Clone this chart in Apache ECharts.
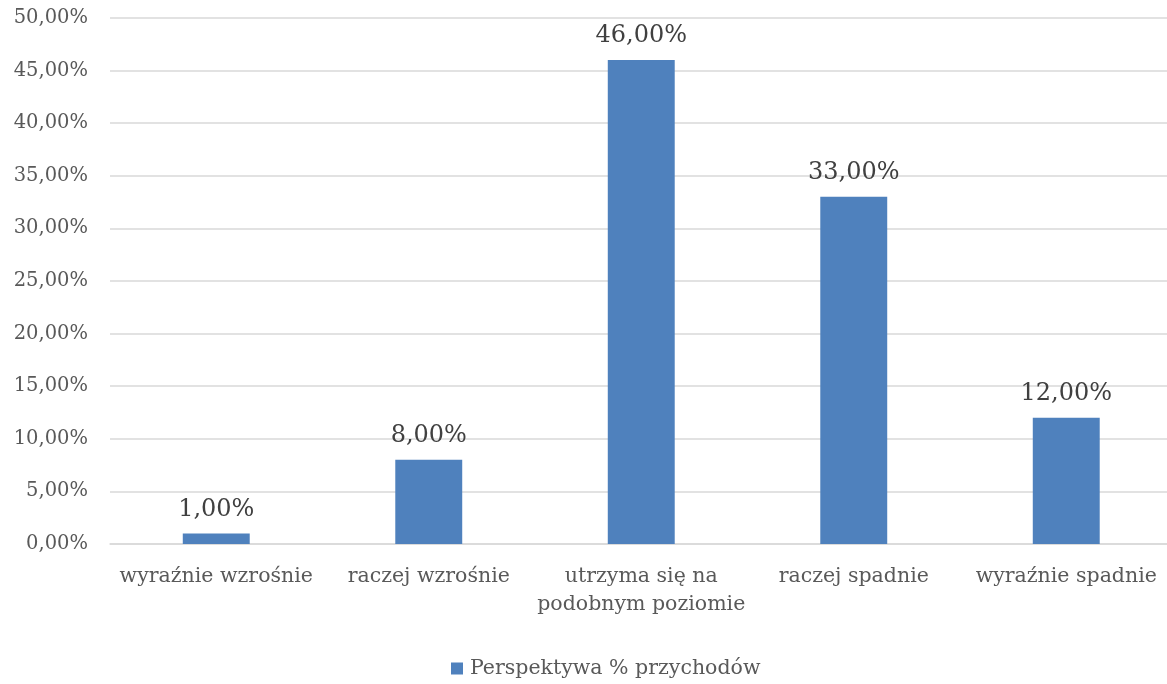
<!DOCTYPE html>
<html><head><meta charset="utf-8">
<script src="https://cdn.jsdelivr.net/npm/echarts@6/dist/echarts.min.js"></script>
<style>html,body{margin:0;padding:0;background:#fff;overflow:hidden}#c{width:1180px;height:684px}</style>
</head><body><div id="c"></div>
<script>
const categories = ['wyraźnie wzrośnie', 'raczej wzrośnie', 'utrzyma się na\npodobnym poziomie', 'raczej spadnie', 'wyraźnie spadnie'];
const values = [1, 8, 46, 33, 12];
const seriesName = 'Perspektywa % przychodów';
const FONT = '"DejaVu Serif", "Liberation Serif", serif';
const fmt = v => v.toFixed(2).replace('.', ',') + '%';
const chart = echarts.init(document.getElementById('c'));
chart.setOption({
  animation: false,
  textStyle: { fontFamily: FONT },
  grid: { left: 110, width: 1062.5, top: 18, bottom: 140 },
  legend: {
    bottom: 0, left: 446, itemWidth: 12, itemHeight: 12, itemGap: 6,
    icon: 'rect',
    textStyle: { fontFamily: FONT, fontSize: 20.5, color: '#595959', padding: [0, 0, 0, 2] }
  },
  xAxis: {
    type: 'category', data: categories,
    axisLine: { lineStyle: { color: '#D9D9D9', width: 1.5 } },
    axisTick: { show: false },
    axisLabel: { fontFamily: FONT, fontSize: 20.5, color: '#595959', margin: 19, lineHeight: 28, interval: 0 }
  },
  yAxis: {
    type: 'value', min: 0, max: 50, interval: 5,
    axisLine: { show: false }, axisTick: { show: false },
    splitLine: { lineStyle: { color: '#D9D9D9', width: 1.5 } },
    axisLabel: { formatter: v => fmt(v), fontFamily: FONT, fontSize: 19.5, color: '#595959', margin: 22 }
  },
  series: [{
    name: seriesName, type: 'bar', data: values, barWidth: '31.5%',
    itemStyle: { color: '#4F81BD' },
    label: { show: true, position: 'top', distance: 12, formatter: p => fmt(p.value), fontFamily: FONT, fontSize: 24, color: '#404040' }
  }]
});
</script></body></html>
